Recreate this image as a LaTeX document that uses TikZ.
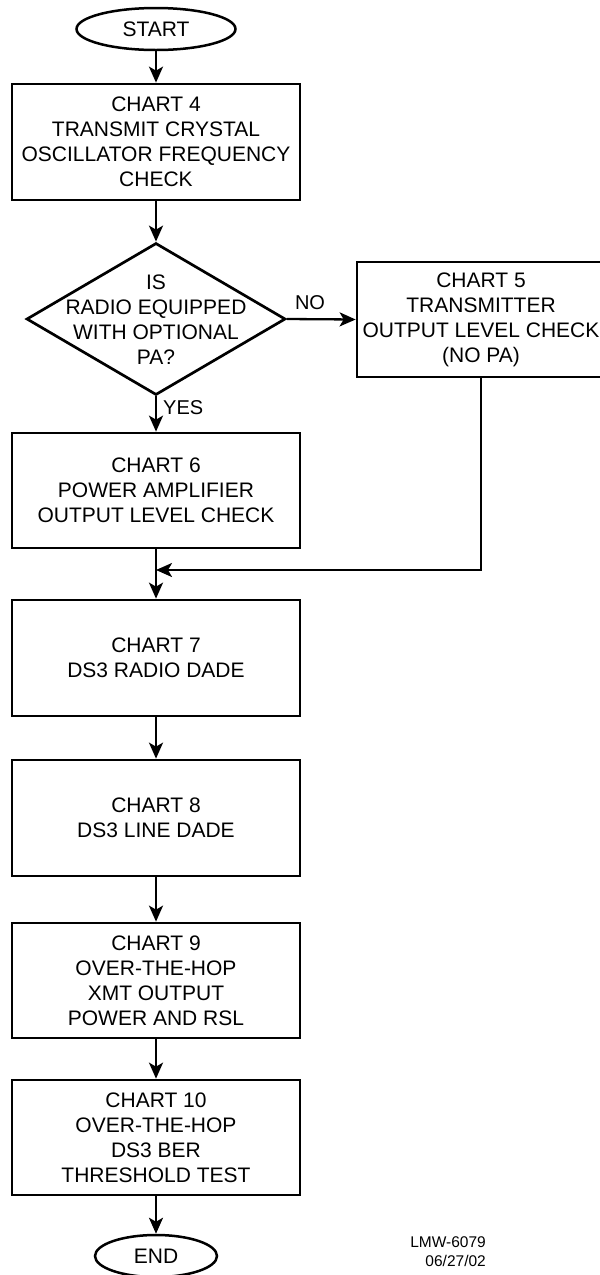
\documentclass[tikz,border=0pt]{standalone}
\usepackage{fontspec}
\setmainfont{Liberation Sans}
\usetikzlibrary{shapes.geometric,arrows.meta}
\begin{document}
\begin{tikzpicture}[x=1pt,y=-1pt,
  every node/.style={font=\fontsize{21}{25}\selectfont, align=center, inner sep=0pt},
  procbox/.style={draw, line width=2.7pt, rectangle, minimum width=288pt, minimum height=116pt},
  termbox/.style={draw, line width=2.5pt, ellipse, minimum height=42pt},
  decbox/.style={draw, line width=2.7pt, diamond, minimum width=259pt, minimum height=152pt},
  conn/.style={line width=2.3pt, -{Stealth[length=16pt,width=14pt,inset=4pt]}},
  plainconn/.style={line width=2.3pt},
  lbl/.style={font=\fontsize{20}{24}\selectfont},
  stamp/.style={font=\fontsize{15.5}{19}\selectfont, align=right}
]
\useasboundingbox (0,0) rectangle (600,1275);
\node[termbox, minimum width=159pt] (start) at (156,29) {START};
\node[procbox] (c4) at (156,142) {CHART 4\\TRANSMIT CRYSTAL\\OSCILLATOR FREQUENCY\\CHECK};
\node[decbox] (dec) at (156,319) {};
\node (dectxt) at (156,320) {IS\\RADIO EQUIPPED\\WITH OPTIONAL\\PA?};
\node[procbox, minimum width=248pt, minimum height=115pt] (c5) at (481,319.5) {CHART 5\\TRANSMITTER\\OUTPUT LEVEL CHECK\\(NO PA)};
\node[procbox, minimum height=115pt] (c6) at (156,490.5) {CHART 6\\POWER AMPLIFIER\\OUTPUT LEVEL CHECK};
\node[procbox] (c7) at (156,658) {CHART 7\\DS3 RADIO DADE};
\node[procbox] (c8) at (156,818) {CHART 8\\DS3 LINE DADE};
\node[procbox, minimum height=115pt] (c9) at (156,980.5) {CHART 9\\OVER-THE-HOP\\XMT OUTPUT\\POWER AND RSL};
\node[procbox, minimum height=115pt] (c10) at (156,1137.5) {CHART 10\\OVER-THE-HOP\\DS3 BER\\THRESHOLD TEST};
\node[termbox, minimum width=122pt] (end) at (156,1256) {END};
\node[lbl] (no) at (310,303) {NO};
\node[lbl, anchor=west] (yes) at (163,408) {YES};
\node[stamp, anchor=north east] (stamp) at (486,1236) {LMW-6079\\06/27/02};
\coordinate (merge) at (156,570);
\draw[conn] (start) -- (c4);
\draw[conn] (c4) -- (dec.north);
\draw[conn] (dec.east) -- (c5.west);
\draw[conn] (dec.south) -- (c6.north);
\draw[plainconn] (c6.south) -- (merge);
\draw[conn] (c5.south) |- (merge);
\draw[conn] (merge) -- (c7.north);
\draw[conn] (c7) -- (c8);
\draw[conn] (c8) -- (c9);
\draw[conn] (c9) -- (c10);
\draw[conn] (c10) -- (end);
\end{tikzpicture}
\end{document}
